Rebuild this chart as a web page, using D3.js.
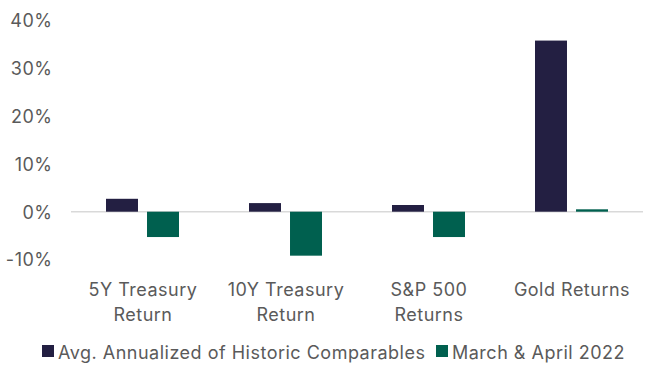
<!DOCTYPE html>
<html><head><meta charset="utf-8">
<script src="https://cdn.jsdelivr.net/npm/d3@7"></script>
<style>body{margin:0;background:#fff}svg{display:block}text{font-family:Inter,Roboto,sans-serif}</style>
</head><body><svg id="c" width="658" height="376"></svg>
<script>
const categories = [["5Y Treasury","Return"],["10Y Treasury","Return"],["S&P 500","Returns"],["Gold Returns"]];
const seriesNames = ["Avg. Annualized of Historic Comparables","March & April 2022"];
const historic = [2.7, 1.8, 1.4, 35.8];
const recent = [-5.3, -9.2, -5.3, 0.5];
const yTicks = [-10, 0, 10, 20, 30, 40];
const colors = ["#231f42","#00604f"];

const svg = d3.select("#c");
const x = d3.scaleBand().domain(d3.range(categories.length)).range([71, 643]);
const y = d3.scaleLinear().domain([-10, 40]).range([259.5, 20.5]);
const inner = d3.scaleBand().domain([0,1]).range([x.bandwidth()/2-36.5, x.bandwidth()/2+36.5]).paddingInner(0.22);

svg.append("line").attr("x1",71).attr("x2",643).attr("y1",y(0)).attr("y2",y(0))
  .attr("stroke","#d9d9d9").attr("stroke-width",1.5);

const yAxis = d3.axisLeft(y).tickValues(yTicks).tickSize(0).tickPadding(0).tickFormat(d=>d+"%");
const ya = svg.append("g").attr("transform","translate(52.5,0)").call(yAxis);
ya.select(".domain").remove();
ya.selectAll("text").attr("fill","#5a5a5a").style("font-size","18px").style("letter-spacing","0.5px").attr("dy","0.35em");

const data = [historic, recent];
data.forEach((vals, s) => {
  svg.append("g").selectAll("rect").data(vals).join("rect")
    .attr("x",(d,i)=>x(i)+inner(s)).attr("width",inner.bandwidth())
    .attr("y",d=>y(Math.max(0,d))).attr("height",d=>Math.abs(y(d)-y(0)))
    .attr("fill",colors[s]);
});

const cg = svg.append("g");
categories.forEach((lines,i)=>{
  const cx = x(i)+x.bandwidth()/2+0.5;
  const t = cg.append("text").attr("x",cx).attr("y",296)
    .attr("text-anchor","middle").attr("fill","#5a5a5a").style("font-size","18px").style("letter-spacing","0.5px");
  lines.forEach((l,j)=>t.append("tspan").attr("x",cx).attr("dy",j?24.5:0).text(l));
});

const lg = svg.append("g");
const leg = [{x:42},{x:436}];
seriesNames.forEach((n,s)=>{
  lg.append("rect").attr("x",leg[s].x).attr("y",345).attr("width",12).attr("height",12).attr("fill",colors[s]);
  lg.append("text").attr("x",leg[s].x+16).attr("y",359).attr("fill","#5a5a5a").style("font-size","18px").style("letter-spacing","0.5px").text(n);
});
</script></body></html>
